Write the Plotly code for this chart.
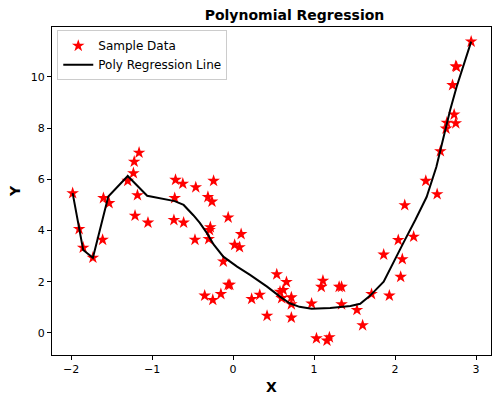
import plotly.graph_objects as go

# Sample data
x_data = [-1.98, -1.90, -1.85, -1.73, -1.61, -1.60, -1.53, -1.30, -1.23, -1.22, -1.16, -1.18, -1.21, -1.05,
          -0.71, -0.62, -0.72, -0.73, -0.61, -0.46, -0.47, -0.24, -0.31, -0.26, -0.06, -0.28, -0.29, -0.30,
          0.10, 0.02, 0.08, -0.12, -0.06, -0.04, -0.35, -0.25, -0.15, 0.23, 0.33, 0.42, 0.54, 0.66, 0.58,
          0.62, 0.60, 0.72, 0.72, 0.72, 0.97, 1.11, 1.09, 1.31, 1.34, 1.34, 1.03, 1.16, 1.19, 1.53, 1.60,
          1.71, 1.93, 1.86, 2.07, 2.09, 2.04, 2.23, 2.94, 2.75, 2.76, 2.71, 2.73, 2.64, 2.75, 2.63, 2.56,
          2.38, 2.52, 2.12]
y_data = [5.46, 4.06, 3.33, 2.94, 3.64, 5.27, 5.07, 5.94, 6.24, 6.69, 7.04, 5.38, 4.58, 4.31,
          5.98, 5.83, 5.27, 4.41, 4.31, 5.69, 3.64, 5.94, 5.31, 5.13, 4.51, 4.13, 4.02, 3.67,
          3.86, 3.44, 3.35, 2.79, 1.88, 1.88, 1.46, 1.29, 1.52, 1.33, 1.49, 0.67, 2.29, 1.99, 1.61,
          1.68, 1.36, 1.39, 1.12, 0.60, 1.15, 2.04, 1.80, 1.80, 1.80, 1.12, -0.21, -0.30, -0.17, 0.90, 0.30,
          1.52, 1.46, 3.06, 2.19, 2.88, 3.63, 3.76, 11.38, 10.42, 10.39, 9.68, 8.53, 8.21, 8.19, 7.98, 7.10,
          5.94, 5.42, 4.99]

# Regression line vertices
line_x = [-1.98, -1.85, -1.73, -1.54, -1.30, -1.06, -0.72, -0.61, -0.49, -0.41, -0.32, -0.24, -0.12,
          0.05, 0.21, 0.42, 0.58, 0.70, 0.82, 0.97, 1.20, 1.32, 1.45, 1.57, 1.69, 1.86, 1.98, 2.10,
          2.25, 2.39, 2.51, 2.60, 2.68, 2.76, 2.94]
line_y = [5.46, 3.24, 2.94, 5.33, 6.13, 5.36, 5.15, 5.00, 4.60, 4.30, 3.89, 3.46, 2.98,
          2.59, 2.27, 1.81, 1.42, 1.16, 1.02, 0.95, 0.98, 1.00, 1.05, 1.14, 1.45, 2.00, 2.72, 3.50,
          4.41, 5.31, 6.48, 7.66, 8.70, 9.61, 11.38]

x_ticks = [-2, -1, 0, 1, 2, 3]
y_ticks = [0, 2, 4, 6, 8, 10]

FONT = "DejaVu Sans"

fig = go.Figure()
fig.add_trace(go.Scatter(
    x=x_data, y=y_data, mode="markers", name="Sample Data",
    marker=dict(symbol="star", color="red", size=9.5, line=dict(width=0)),
))
fig.add_trace(go.Scatter(
    x=line_x, y=line_y, mode="lines", name="Poly Regression Line",
    line=dict(color="black", width=2),
))

axis_common = dict(
    showgrid=False, zeroline=False, showline=True, linecolor="black", linewidth=1,
    mirror=True, ticks="outside", ticklen=4, tickwidth=1, tickcolor="black",
    tickfont=dict(family=FONT, size=11, color="black"),
)

fig.update_layout(
    width=500, height=403,
    margin=dict(l=52, r=9, t=27, b=48),
    paper_bgcolor="white", plot_bgcolor="white",
    title=dict(text="<b>Polynomial Regression</b>", x=0.589, xanchor="center",
               y=1 - 15 / 403, yanchor="middle", font=dict(family=FONT, size=14, color="black")),
    xaxis=dict(range=[-2.235, 3.185], tickvals=x_ticks,
               title=dict(text="<b>X</b>", font=dict(family=FONT, size=14, color="black"), standoff=6),
               **axis_common),
    yaxis=dict(range=[-0.86, 11.95], tickvals=y_ticks,
               title=dict(text="<b>Y</b>", font=dict(family=FONT, size=14, color="black"), standoff=6),
               **axis_common),
    legend=dict(x=0.012, y=0.99, xanchor="left", yanchor="top",
                bgcolor="rgba(255,255,255,0.8)", bordercolor="#cccccc", borderwidth=1,
                font=dict(family=FONT, size=12, color="black"), tracegroupgap=0,
                itemwidth=30),
    showlegend=True,
)

fig.write_html("out.html")
